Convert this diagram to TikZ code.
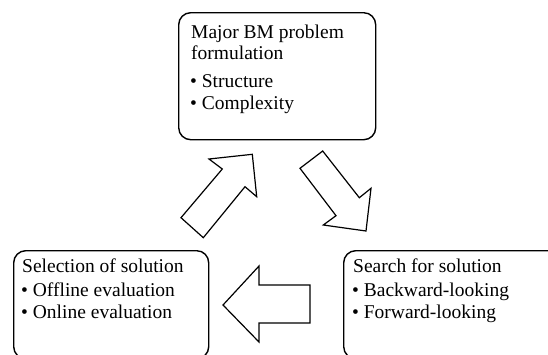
\documentclass[tikz,border=0pt]{standalone}
\usepackage{fontspec}
\setmainfont{Liberation Serif}
\begin{document}
\begin{tikzpicture}[x=1pt,y=-1pt,
  box/.style={draw=black, line width=1.4pt, rounded corners=12pt, fill=none, inner sep=0pt},
  txt/.style={anchor=base west, inner sep=0pt, font=\fontsize{19.5}{22}\selectfont},
  blockarrow/.style={draw=black, line width=1.2pt, fill=white, line join=miter}]
\useasboundingbox (0,0) rectangle (548,354);
\clip (0,0) rectangle (548,354);
\fill[white] (0,0) rectangle (548,354);
% boxes
\node[box, minimum width=197pt, minimum height=127pt, anchor=north west] (formbox) at (178,12) {};
\node[box, minimum width=195pt, minimum height=108pt, anchor=north west] (selbox) at (13,250) {};
\node[box, minimum width=220pt, minimum height=108pt, anchor=north west] (srchbox) at (343,250) {};
% texts
\node[txt] (f1) at (191,38) {Major BM problem};
\node[txt] (f2) at (191,59) {formulation};
\node[txt] (f3) at (190,87) {• Structure};
\node[txt] (f4) at (190,109) {• Complexity};
\node[txt] (s1) at (22,272) {Selection of solution};
\node[txt] (s2) at (21,296) {• Offline evaluation};
\node[txt] (s3) at (21,318) {• Online evaluation};
\node[txt] (r1) at (353,272) {Search for solution};
\node[txt] (r2) at (352,296) {• Backward-looking};
\node[txt] (r3) at (352,318) {• Forward-looking};
% block arrows
\draw[blockarrow] (252.3,154.3) -- (209,159) -- (222.3,169) -- (181,217.7) -- (203.3,237.7) -- (245,186.7) -- (256.7,196.7) -- cycle;
\draw[blockarrow] (322.7,151) -- (359.3,197.7) -- (371,188.3) -- (366,231) -- (323.3,225) -- (336,215.7) -- (300,168.3) -- cycle;
\draw[blockarrow] (223,305) -- (259,266) -- (259,285) -- (310,285) -- (310,323) -- (259,323) -- (259,342) -- cycle;
\end{tikzpicture}
\end{document}
